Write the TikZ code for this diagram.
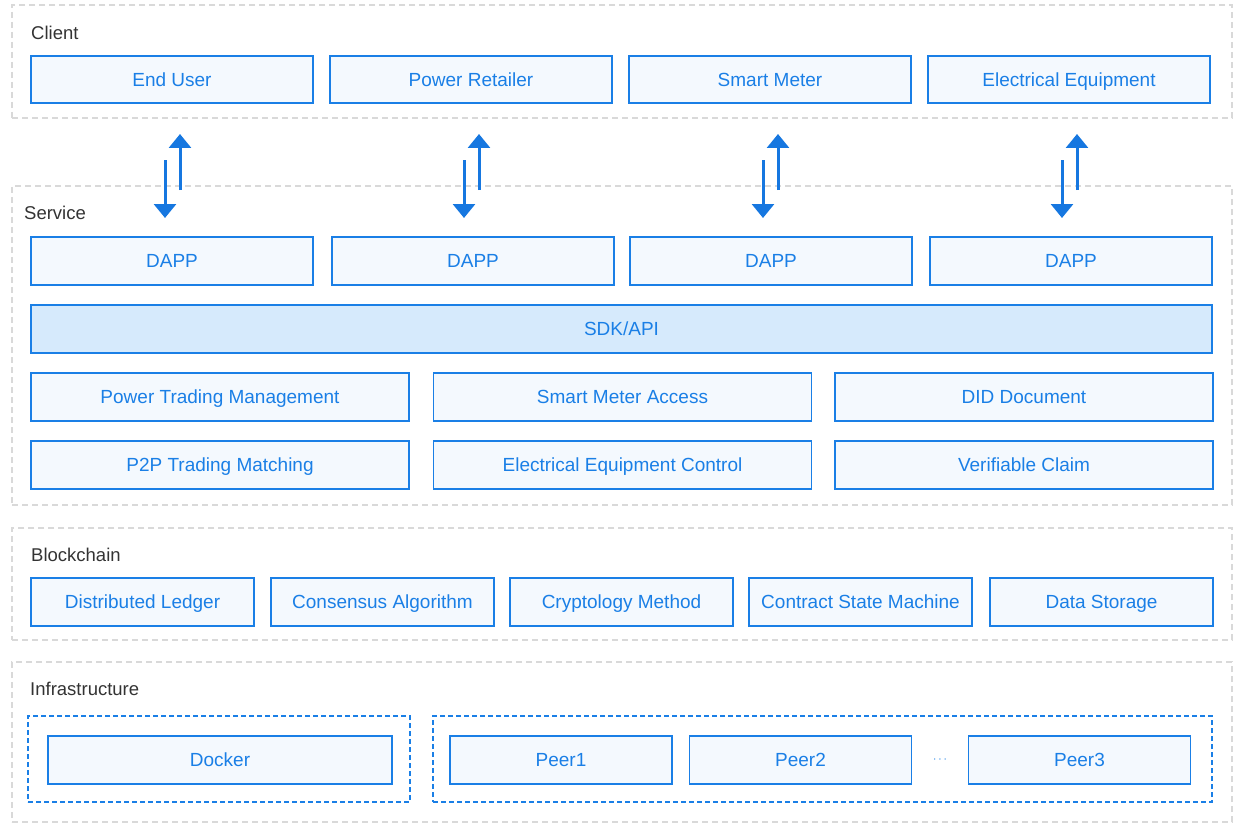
\documentclass[tikz,border=0pt]{standalone}
\usepackage{fontspec}
\setmainfont{Liberation Sans}
\usetikzlibrary{arrows.meta}
\definecolor{bblue}{HTML}{1A7FE6}
\definecolor{bfill}{HTML}{F4F9FE}
\definecolor{sdkfill}{HTML}{D6EAFC}
\definecolor{ablue}{HTML}{1677E0}
\definecolor{ggray}{HTML}{D9D9D9}
\definecolor{ltext}{HTML}{333333}
\tikzset{
  box/.style={draw=bblue, line width=1.4pt, fill=bfill, text=bblue, inner sep=0pt,
    font=\fontsize{19}{21}\selectfont, text height=16.5pt, text depth=3pt},
  grp/.style={draw=ggray, line width=1.2pt, dash pattern=on 6pt off 4pt, inner sep=0pt},
  bgrp/.style={draw=bblue, line width=1.4pt, dash pattern=on 5pt off 3pt, inner sep=0pt},
  lbl/.style={text=ltext, anchor=west, inner sep=0pt, font=\fontsize{18.5}{20}\selectfont},
  arr/.style={draw=ablue, line width=3pt, -{Triangle[width=22pt,length=14pt]}},
}
\begin{document}
\begin{tikzpicture}[x=1pt,y=-1pt]
\useasboundingbox (0,0) rectangle (1242,832);
% group boxes
\node[grp, minimum width=1220, minimum height=113] (client) at (622,61.5) {};
\node[grp, minimum width=1220, minimum height=319] (service) at (622,345.5) {};
\node[grp, minimum width=1220, minimum height=112] (chain) at (622,584) {};
\node[grp, minimum width=1220, minimum height=160] (infra) at (622,742) {};
\node[lbl] (lclient) at (31,33) {Client};
\node[lbl] (lservice) at (24,213) {Service};
\node[lbl] (lchain) at (31,555) {Blockchain};
\node[lbl] (linfra) at (30,689) {Infrastructure};
% client
\begin{scope}[every node/.append style={minimum width=282, minimum height=47}]
\node[box] (eu) at (172,79.5) {End User};
\node[box] (pr) at (471,79.5) {Power Retailer};
\node[box] (sm) at (770,79.5) {Smart Meter};
\node[box] (ee) at (1069,79.5) {Electrical Equipment};
\end{scope}
% dapps
\begin{scope}[every node/.append style={minimum width=282, minimum height=48}]
\node[box] (d1) at (172,261) {DAPP};
\node[box] (d2) at (473,261) {DAPP};
\node[box] (d3) at (771,261) {DAPP};
\node[box] (d4) at (1071,261) {DAPP};
\end{scope}
\node[box, fill=sdkfill, minimum width=1181, minimum height=48] (sdk) at (621.5,329) {SDK/API};
\begin{scope}[every node/.append style={minimum width=378, minimum height=48}]
\node[box] (ptm) at (220,397) {Power Trading Management};
\node[box] (sma) at (622.5,397) {Smart Meter Access};
\node[box] (did) at (1024,397) {DID Document};
\node[box] (p2p) at (220,465) {P2P Trading Matching};
\node[box] (eec) at (622.5,465) {Electrical Equipment Control};
\node[box] (vc) at (1024,465) {Verifiable Claim};
\end{scope}
% blockchain
\begin{scope}[every node/.append style={minimum width=223, minimum height=48}]
\node[box] (dl) at (142.5,602) {Distributed Ledger};
\node[box] (ca) at (382.5,602) {Consensus Algorithm};
\node[box] (cm) at (621.5,602) {Cryptology Method};
\node[box] (csm) at (860.5,602) {Contract State Machine};
\node[box] (ds) at (1101.5,602) {Data Storage};
\end{scope}
% infrastructure
\node[bgrp, minimum width=382, minimum height=86] (dgrp) at (219,759) {};
\node[bgrp, minimum width=779, minimum height=86] (pgrp) at (822.5,759) {};
\node[box, minimum width=344, minimum height=48] (dock) at (220,760) {Docker};
\begin{scope}[every node/.append style={minimum width=222, minimum height=48}]
\node[box] (peer1) at (561,760) {Peer1};
\node[box] (peer2) at (800.5,760) {Peer2};
\node[box] (peer3) at (1079.5,760) {Peer3};
\end{scope}
\node[text=bblue, inner sep=0pt, font=\fontsize{12}{14}\selectfont] (dots) at (940,760) {$\cdots$};
% arrows
\foreach \n/\cx in {1/172,2/471,3/770,4/1069}{
  \coordinate (ds\n) at (\cx-7,160);
  \coordinate (de\n) at (\cx-7,218);
  \coordinate (us\n) at (\cx+8,190);
  \coordinate (ue\n) at (\cx+8,134);
  \draw[arr] (ds\n) -- (de\n);
  \draw[arr] (us\n) -- (ue\n);
}
\end{tikzpicture}
\end{document}
